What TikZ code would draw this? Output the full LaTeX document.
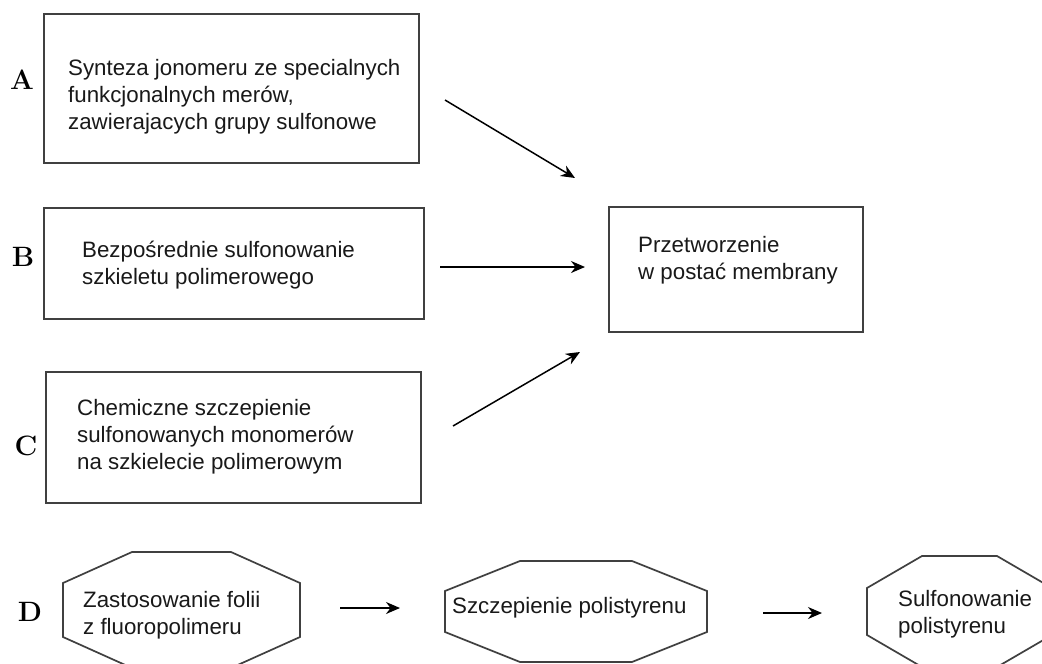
\documentclass[tikz,border=0pt]{standalone}
\usepackage{fontspec}
\usetikzlibrary{arrows.meta}
\newfontfamily\arialf{Liberation Sans}
\begin{document}
\begin{tikzpicture}[x=1pt,y=-1pt,
  boxst/.style={draw=black!75, line width=1.7pt, rectangle, inner sep=0pt},
  txt/.style={font=\arialf\fontsize{22.3}{27}\selectfont, text=black!90, align=left, anchor=west, inner sep=0pt},
  lab/.style={font=\fontsize{28}{28}\selectfont\bfseries, text=black, inner sep=0pt},
  arr/.style={line width=1.5pt, -{Stealth[length=14pt,width=12pt]}},
  octst/.style={draw=black!75, line width=1.7pt, line join=miter}]
\useasboundingbox (0,0) rectangle (1042,664);
\fill[white] (0,0) rectangle (1042,664);
\newcommand\octagonbox[7]{%
  \draw[octst] ({#2+#6},#3) -- ({#4-#6},#3) -- (#4,{#3+#7}) -- (#4,{#5-#7})
     -- ({#4-#6},#5) -- ({#2+#6},#5) -- (#2,{#5-#7}) -- (#2,{#3+#7}) -- cycle;
  \node[inner sep=0pt, minimum width={#4-#2}, minimum height={#5-#3}] (#1) at ({(#2+#4)/2},{(#3+#5)/2}) {};}

% boxes
\node[boxst, minimum width=375pt, minimum height=149pt] (A) at (231.5,88.5) {};
\node[boxst, minimum width=380pt, minimum height=111pt] (B) at (234,263.5) {};
\node[boxst, minimum width=375pt, minimum height=131pt] (C) at (233.5,437.5) {};
\node[boxst, minimum width=254pt, minimum height=125pt] (P) at (736,269.5) {};

\node[txt] (At) at (68,96.5) {Synteza jonomeru ze specialnych\\funkcjonalnych merów,\\zawierajacych grupy sulfonowe};
\node[txt] (Bt) at (82,265) {Bezpośrednie sulfonowanie\\szkieletu polimerowego};
\node[txt] (Ct) at (77,436.5) {Chemiczne szczepienie\\sulfonowanych monomerów\\na szkielecie polimerowym};
\node[txt] (Pt) at (638,260) {Przetworzenie\\w postać membrany};

% labels
\node[lab] (LA) at (22,80) {A};
\node[lab] (LB) at (23,257) {B};
\node[lab] (LC) at (26,446) {C};
\node[lab] (LD) at (30,612) {D};

% octagons
\octagonbox{O1}{63}{552}{300}{668}{69}{31}
\octagonbox{O2}{445}{561}{707}{662}{75}{30}
\octagonbox{O3}{867}{556}{1052}{667}{55}{32}

\node[txt] (O1t) at (83,615) {Zastosowanie folii\\z fluoropolimeru};
\node[txt] (O2t) at (452,608) {Szczepienie polistyrenu};
\node[txt] (O3t) at (898,614) {Sulfonowanie\\polistyrenu};

% arrow endpoints
\coordinate (Aout) at (445,100);
\coordinate (PinA) at (575,178);
\coordinate (Bout) at (440,267);
\coordinate (PinB) at (585,267);
\coordinate (Cout) at (453,426);
\coordinate (PinC) at (580,352);
\coordinate (O1out) at (340,608);
\coordinate (O2in) at (400,608);
\coordinate (O2out) at (763,613);
\coordinate (O3in) at (822,613);

\draw[arr] (Aout) -- (PinA);
\draw[arr] (Bout) -- (PinB);
\draw[arr] (Cout) -- (PinC);
\draw[arr] (O1out) -- (O2in);
\draw[arr] (O2out) -- (O3in);
\end{tikzpicture}
\end{document}
